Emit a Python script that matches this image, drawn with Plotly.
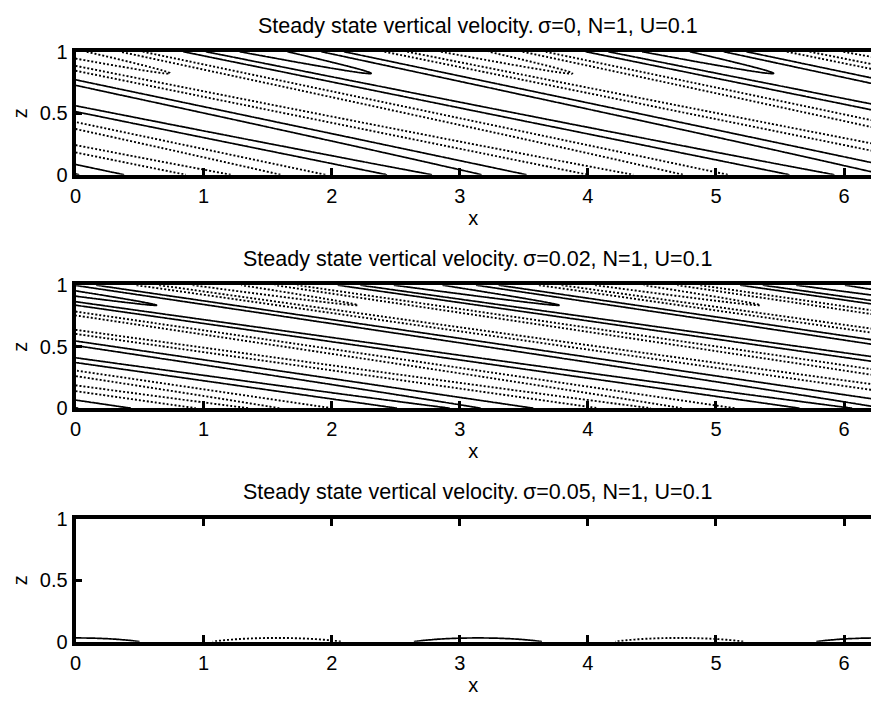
import numpy as np
import plotly.graph_objects as go

# Model parameters for the three runs
SIGMA = [0, 0.02, 0.05]          # damping rate of each run
N_BV = 1                         # buoyancy frequency
U_MEAN = 0.1                     # mean wind
K_X = 2                          # horizontal wavenumber of the forcing
M_Z = [9.3, 13.3]                # vertical wavenumbers (propagating runs)
PHASE = [0.33, 0.2]              # phase of the wave at x=0, z=0
AMP0 = [2.16, 2.06]              # amplitude at z=0
GROWTH = [0.4, 0.45]             # amplitude growth rate with height
DECAY_DEPTH = 0.049              # e-folding depth of the damped run

# contour levels (solid for positive, dotted for negative)
POS_LEVELS = [[1, 2, 3], [1, 2, 3], [0.54]]
NEG_LEVELS = [[-3, -2, -1], [-3, -2, -1], [-0.54]]

X_TICKS = [0, 1, 2, 3, 4, 5, 6]
Z_TICKS = [0, 0.5, 1]
Z_TICKTEXT = ["0", "0.5", "1"]
X_MAX = 6.21

x = np.linspace(0, 2 * np.pi, 421)
z = np.linspace(0, 1, 281)
X, Z = np.meshgrid(x, z)


def propagating(i):
    amp = AMP0[i] * np.exp(GROWTH[i] * Z)
    return amp * np.cos(K_X * X + M_Z[i] * Z + PHASE[i])


def damped():
    return np.exp(-Z / DECAY_DEPTH) * np.cos(K_X * X)


fields = [propagating(0), propagating(1), damped()]

W, H = 871, 704
FONT = "Liberation Sans, Arial, sans-serif"
FS = 20
FS_TITLE = 21.5
left_px, right_px = 70, 871
tops = [42, 283, 524]
plot_h = 127

fig = go.Figure()


def add_levels(field, levels, dash, width, axis_idx):
    for lev in levels:
        fig.add_trace(go.Contour(
            x=x, y=z, z=field,
            autocontour=False,
            contours=dict(start=lev, end=lev, size=1, coloring="none"),
            line=dict(color="black", width=width, dash=dash),
            showscale=False, hoverinfo="skip",
            xaxis="x" if axis_idx == 0 else f"x{axis_idx + 1}",
            yaxis="y" if axis_idx == 0 else f"y{axis_idx + 1}",
        ))


for i, f in enumerate(fields):
    add_levels(f, POS_LEVELS[i], "solid", 1.7, i)
    add_levels(f, NEG_LEVELS[i], "2px,2px", 1.9, i)

layout = dict(
    width=W, height=H,
    margin=dict(l=0, r=0, t=0, b=0),
    paper_bgcolor="white", plot_bgcolor="white",
    showlegend=False,
    font=dict(family=FONT, size=FS, color="black"),
)

annotations = []
for i in range(3):
    xs = "xaxis" if i == 0 else f"xaxis{i + 1}"
    ys = "yaxis" if i == 0 else f"yaxis{i + 1}"
    ya = "y" if i == 0 else f"y{i + 1}"
    xa = "x" if i == 0 else f"x{i + 1}"
    top = tops[i]
    bot = top + plot_h
    layout[xs] = dict(
        domain=[left_px / W, right_px / W],
        anchor=ya,
        range=[0, X_MAX],
        tickvals=X_TICKS,
        ticks="inside", ticklen=7, tickwidth=3, tickcolor="black",
        showline=True, linewidth=3.8, linecolor="black",
        mirror=True if i < 2 else "ticks",
        showgrid=False, zeroline=False,
        tickfont=dict(family=FONT, size=FS),
        title=dict(text="x", font=dict(family=FONT, size=FS), standoff=6),
    )
    layout[ys] = dict(
        domain=[1 - bot / H, 1 - top / H],
        anchor=xa,
        range=[0, 1],
        tickvals=Z_TICKS, ticktext=Z_TICKTEXT,
        ticks="inside", ticklen=7, tickwidth=3, tickcolor="black",
        showline=True, linewidth=3.8, linecolor="black",
        showgrid=False, zeroline=False,
        tickfont=dict(family=FONT, size=FS),
        title=dict(text="z", font=dict(family=FONT, size=FS), standoff=8),
    )
    title = (f"Steady state vertical velocity.\u2009\u03c3={SIGMA[i]:g}, "
             f"N={N_BV}, U={U_MEAN:g}")
    annotations.append(dict(
        text=title, xref="paper", yref="paper",
        x=475 / W, y=1 - (top - 27) / H,
        xanchor="center", yanchor="middle", showarrow=False,
        font=dict(family=FONT, size=FS_TITLE),
    ))

layout["annotations"] = annotations
fig.update_layout(**layout)
fig.write_html("out.html")
